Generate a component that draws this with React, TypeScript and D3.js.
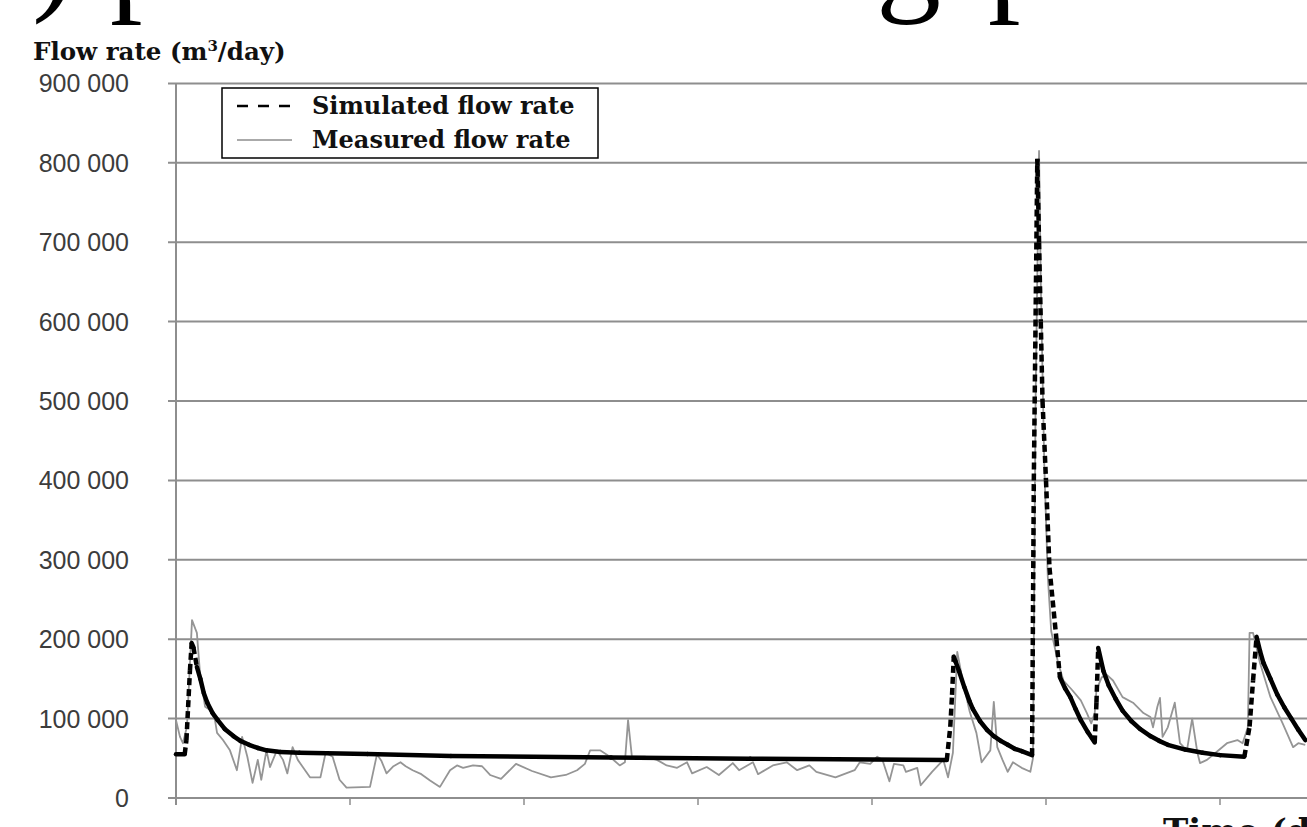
import React, { useRef, useEffect } from 'react';
import { select, scaleLinear, line, formatLocale } from 'd3';

const width = 1307;
const height = 827;

// y axis: flow rate (m3/day)
const yTicks = [0, 100000, 200000, 300000, 400000, 500000, 600000, 700000, 800000, 900000];
// x axis: time (days), labels fall below the cropped edge
const xTicks = [0, 100, 200, 300, 400, 500, 600];

const simulatedDays = [
  0, 5, 6, 8, 9, 10, 12, 14, 16, 18, 21, 24, 28, 33, 37, 42, 47, 52, 60, 71, 110, 158, 250, 330, 443,
  445, 446, 447, 448, 450, 453, 456, 458, 462, 466, 470, 474, 478, 482, 486, 492,
  493, 495, 496, 497, 498, 500, 502, 506, 508, 511, 514, 517, 520, 524, 528,
  529, 530, 533, 536, 540, 544, 549, 554, 560, 565, 570, 580, 590, 600, 614,
  617, 619, 621, 623, 625, 629, 633, 637, 641, 645, 649,
];
const simulatedFlow = [
  55000, 55000, 73000, 160000, 195000, 190000, 165000, 150000, 132000, 120000, 107000, 98000, 87000, 78000, 72000, 67000, 63000, 60000, 58000, 57000, 55500, 53000, 51000, 49500, 48000,
  90000, 130000, 178000, 172000, 160000, 140000, 122000, 112000, 97000, 86000, 78000, 72000, 67000, 62000, 59000, 54000,
  400000, 805000, 700000, 600000, 500000, 400000, 290000, 200000, 152000, 138000, 127000, 112000, 98000, 83000, 70000,
  120000, 189000, 160000, 142000, 125000, 110000, 97000, 87000, 78000, 72000, 67000, 61000, 57000, 54000, 52000,
  90000, 148000, 203000, 185000, 170000, 150000, 130000, 114000, 100000, 86000, 73000,
];

const measuredDays = [
  0, 2.3, 4, 6.3, 9.2, 12, 13.8, 16.7, 19.5, 22.4, 23.6, 27, 31, 35, 38, 41, 44, 47, 49, 52,
  54, 58, 61.5, 64, 67, 70, 77, 83, 86, 90, 94, 98, 111.5, 115.5, 118, 121, 125, 129, 132, 136,
  141, 146, 151.7, 157.5, 161.5, 165, 170.7, 175.9, 180.5, 186.8, 195.4, 204.6, 215.5, 224, 230.5, 235, 238, 243.7, 249.4, 255,
  258, 259.8, 262, 269.5, 276.4, 282, 288, 293.7, 296.6, 305, 312, 320, 323.6, 331.6, 334.5, 343, 351, 357, 364, 368,
  379, 390, 393, 399, 403, 406, 410, 412.6, 418, 419.5, 426, 428, 434.5, 441, 443.7, 446.5, 449, 452, 456, 460,
  463, 468, 470, 472, 475, 478, 481, 486, 491, 492.5, 494, 496, 497, 499, 501, 503, 507, 510, 515, 520,
  523.5, 526, 528, 529, 532, 535, 538.5, 544, 550, 556, 560, 561.5, 564, 565.5, 567, 570, 574, 577, 581, 584,
  587, 588.5, 592.5, 598, 604, 610, 613, 616, 617, 619, 623, 629, 636, 642, 645, 649,
];
const measuredFlow = [
  98000, 77000, 69000, 90000, 224000, 208000, 157000, 115000, 111000, 98000, 82000, 73000, 60000, 35000, 77000, 52000, 19000, 48000, 23000, 60000,
  39000, 60000, 48000, 31000, 64000, 48000, 26000, 26000, 57000, 52000, 23000, 13000, 14000, 55000, 47000, 31000, 40000, 45000, 40000, 35000,
  30000, 22000, 14000, 35000, 41000, 38000, 41000, 40000, 29000, 24000, 43000, 34000, 26000, 29000, 35000, 43000, 60000, 60000, 52000, 41000,
  45000, 98000, 52000, 52000, 48000, 41000, 38000, 45000, 31000, 39000, 29000, 44000, 35000, 45000, 30000, 41000, 45000, 35000, 41000, 33000,
  26000, 35000, 45000, 43000, 52000, 48000, 21000, 43000, 41000, 33000, 38000, 16000, 33000, 48000, 26000, 57000, 184000, 149000, 110000, 82000,
  45000, 60000, 121000, 64000, 48000, 33000, 45000, 38000, 33000, 50000, 500000, 815000, 650000, 420000, 280000, 210000, 170000, 148000, 136000, 123000,
  107000, 94000, 107000, 136000, 152000, 155000, 148000, 127000, 120000, 107000, 102000, 89000, 115000, 126000, 77000, 89000, 120000, 69000, 60000, 100000,
  57000, 44000, 48000, 58000, 69000, 73000, 69000, 89000, 208000, 208000, 170000, 127000, 94000, 64000, 69000, 67000,
];

const gridColor = '#8e8e8e';
const serif = "'DejaVu Serif', 'Liberation Serif', serif";

const FlowChart = () => {
  const ref = useRef<SVGSVGElement>(null);

  useEffect(() => {
    const svg = select(ref.current);
    svg.selectAll('*').remove();

    const x = scaleLinear().domain([0, 650]).range([176, 1307]);
    const y = scaleLinear().domain([0, 900000]).range([798, 83.4]);
    const fmt = formatLocale({ decimal: '.', thousands: ' ', grouping: [3], currency: ['', ''] }).format(',');

    svg.append('rect').attr('width', width).attr('height', height).attr('fill', '#fff');

    // fragments of the caption above, cut by the crop
    const caption = svg.append('text').attr('y', -3)
      .attr('font-family', "'Liberation Serif', serif").attr('font-size', 130).attr('fill', '#000');
    caption.append('tspan').attr('x', 32).text(')');
    caption.append('tspan').attr('x', 110).text('p');
    caption.append('tspan').attr('x', 876).text('g');
    caption.append('tspan').attr('x', 988).text('p');

    // gridlines
    svg.append('g').selectAll('line').data(yTicks).join('line')
      .attr('x1', 168).attr('x2', 1307)
      .attr('y1', d => y(d)).attr('y2', d => y(d))
      .attr('stroke', gridColor).attr('stroke-width', 2);

    // y axis line + x ticks
    svg.append('line').attr('x1', 176).attr('x2', 176).attr('y1', y(900000)).attr('y2', 805)
      .attr('stroke', gridColor).attr('stroke-width', 2);
    svg.append('g').selectAll('line').data(xTicks).join('line')
      .attr('x1', d => x(d)).attr('x2', d => x(d)).attr('y1', 798).attr('y2', 805)
      .attr('stroke', gridColor).attr('stroke-width', 1.5);

    // y tick labels
    svg.append('g').selectAll('text').data(yTicks).join('text')
      .attr('x', 129).attr('y', d => y(d)).attr('dy', '0.36em')
      .attr('text-anchor', 'end')
      .attr('font-family', "'Liberation Sans', Arial, sans-serif").attr('font-size', 25)
      .attr('fill', '#3c3c3c')
      .text(d => fmt(d));

    // y axis title
    const title = svg.append('text').attr('x', 33).attr('y', 60)
      .attr('font-family', serif).attr('font-weight', 'bold').attr('font-size', 24.5).attr('fill', '#111');
    title.append('tspan').text('Flow rate (m');
    title.append('tspan').attr('font-size', 15).attr('dy', -9).text('3');
    title.append('tspan').attr('dy', 9).text('/day)');

    // x axis title, mostly below the crop
    svg.append('text').attr('x', 1163).attr('y', 843)
      .attr('font-family', serif).attr('font-weight', 'bold').attr('font-size', 34).attr('fill', '#111')
      .text('Time (days)');

    // measured series
    const measured = measuredDays.map((d, i) => [d, measuredFlow[i]] as [number, number]);
    const path = line<[number, number]>().x(d => x(d[0])).y(d => y(d[1]));
    svg.append('path').attr('d', path(measured))
      .attr('fill', 'none').attr('stroke', '#959595').attr('stroke-width', 1.8).attr('stroke-linejoin', 'round');

    // simulated series: dash pattern restarts every day, so flat stretches read as solid
    const sim = svg.append('g');
    for (let i = 1; i < simulatedDays.length; i++) {
      const a: [number, number] = [simulatedDays[i - 1], simulatedFlow[i - 1]];
      const b: [number, number] = [simulatedDays[i], simulatedFlow[i]];
      const len = Math.hypot(x(b[0]) - x(a[0]), y(b[1]) - y(a[1]));
      const perDay = len / Math.max(1, b[0] - a[0]);
      sim.append('path').attr('d', path([a, b]))
        .attr('fill', 'none').attr('stroke', '#000').attr('stroke-width', 4.5)
        .attr('stroke-linecap', perDay > 8 ? 'butt' : 'round')
        .attr('stroke-dasharray', perDay > 8 ? '7 4' : null);
    }

    // legend
    const lg = svg.append('g');
    lg.append('rect').attr('x', 222).attr('y', 88).attr('width', 376).attr('height', 70)
      .attr('fill', '#fff').attr('stroke', '#000').attr('stroke-width', 1.5);
    lg.append('line').attr('x1', 237).attr('x2', 290).attr('y1', 106).attr('y2', 106)
      .attr('stroke', '#000').attr('stroke-width', 2.5).attr('stroke-dasharray', '11 10');
    lg.append('line').attr('x1', 237).attr('x2', 292).attr('y1', 140).attr('y2', 140)
      .attr('stroke', '#aaa').attr('stroke-width', 2);
    lg.selectAll('text').data(['Simulated flow rate', 'Measured flow rate']).join('text')
      .attr('x', 312).attr('y', (d, i) => 114 + i * 34)
      .attr('font-family', serif).attr('font-weight', 'bold').attr('font-size', 24).attr('fill', '#111')
      .text(d => d);
  }, []);

  return <svg ref={ref} width={width} height={height} style={{ position: 'absolute', left: 0, top: 0 }} />;
};

export default function App() {
  return <FlowChart />;
}
